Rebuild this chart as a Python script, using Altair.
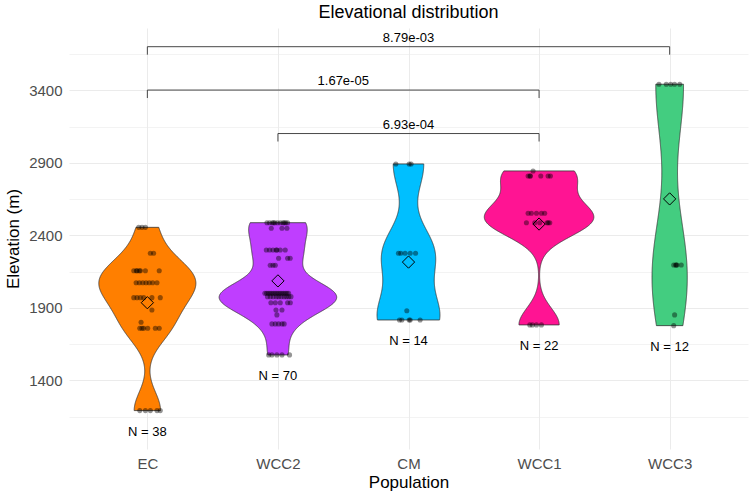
import numpy as np
import pandas as pd
import altair as alt

# ---------------- data ----------------
populations = ["EC", "WCC2", "CM", "WCC1", "WCC3"]
colors = ["#FF7F00", "#BF3EFF", "#00BFFF", "#FF1493", "#43CD80"]

ec_elev = [2456, 2456, 2456, 2277, 2277,
           2157, 2157, 2157, 2157, 2157, 2157, 2157,
           2074, 2074, 2074, 2074, 2074, 2074, 2074,
           1971, 1971, 1971, 1971, 1971, 1971,
           1886, 1801,
           1760, 1760, 1760, 1760, 1760, 1760,
           1192, 1192, 1192, 1192, 1192]
ec_jit = [-0.066, -0.041, -0.015, 0.048, 0.023,
          -0.104, -0.084, -0.061, -0.015, 0.091, -0.079, -0.053,
          -0.086, -0.061, -0.035, -0.010, 0.015, 0.041, 0.074,
          -0.104, -0.079, -0.053, -0.028, 0.035, 0.099,
          0.035, -0.048,
          -0.058, -0.041, -0.028, 0.003, 0.061, 0.091,
          -0.058, -0.015, 0.023, 0.074, 0.099]

wcc2_elev = [2488] * 11 + [2450] * 3 + [2300] * 7 + [2243] * 3 + [2194] * 3 + \
            [2001] * 15 + [1978] * 10 + [1936] * 5 + [1886] * 2 + [1852] + \
            [1790] * 5 + [1576] * 5
wcc2_jit = [-0.084, -0.064, -0.043, -0.023, -0.003, 0.018, 0.038, 0.059, 0.074, -0.033, 0.048,
            -0.051, 0.031, 0.069,
            -0.089, -0.064, -0.038, -0.013, 0.018, 0.056, -0.008,
            0.005, 0.074, 0.094,
            -0.059, -0.038, -0.020,
            -0.100, -0.087, -0.074, -0.061, -0.048, -0.035, -0.022, -0.009,
            0.004, 0.017, 0.030, 0.043, 0.056, 0.069, 0.082,
            -0.080, -0.058, -0.036, -0.012, 0.006, 0.026, 0.048, 0.066, 0.083, 0.100,
            -0.054, -0.020, 0.018, 0.074, 0.095,
            -0.015, 0.031,
            -0.008,
            -0.046, -0.020, 0.005, 0.031, 0.048,
            -0.071, -0.046, -0.008, 0.031, 0.089]

cm_elev = [2893] * 3 + [2277] * 5 + [1881] + [1817] * 5
cm_jit = [-0.097, 0.005, 0.020,
          -0.077, -0.059, 0.013, 0.054, -0.026,
          -0.013,
          -0.069, -0.051, 0.005, 0.013, 0.089]

wcc1_elev = [2845] + [2810] * 6 + [2553] * 5 + [2488] * 6 + [1783] * 4
wcc1_jit = [-0.046,
            -0.084, -0.066, 0.013, 0.069, 0.087, -0.070,
            -0.084, -0.059, -0.020, 0.018, 0.043,
            -0.097, -0.033, 0.005, 0.061, 0.082, 0.070,
            -0.071, -0.051, -0.020, 0.018]

wcc3_elev = [3443] * 5 + [2196] * 5 + [1852, 1778]
wcc3_jit = [-0.082, 0.008, 0.077, -0.026, 0.038,
            0.031, 0.051, 0.089, 0.046, 0.056,
            0.038, 0.031]

elev_lists = [ec_elev, wcc2_elev, cm_elev, wcc1_elev, wcc3_elev]
jit_lists = [ec_jit, wcc2_jit, cm_jit, wcc1_jit, wcc3_jit]

comp_from = ["WCC2", "EC", "EC"]
comp_to = ["WCC1", "WCC1", "WCC3"]
comp_p = ["6.93e-04", "1.67e-05", "8.79e-03"]
comp_y = [3103, 3403, 3702]

# ---------------- tables ----------------
rows = []
for i, (pop, ev, jt) in enumerate(zip(populations, elev_lists, jit_lists)):
    for e, j in zip(ev, jt):
        rows.append({"Population": pop, "idx": i + 1, "Elevation": e, "x": i + 1 + j})
points = pd.DataFrame(rows)


def bw_nrd0(x):
    x = np.asarray(x, float)
    hi = x.std(ddof=1)
    q75, q25 = np.percentile(x, [75, 25])
    lo = min(hi, (q75 - q25) / 1.34)
    if lo <= 0:
        lo = hi
    return 0.9 * lo * len(x) ** -0.2


dens_all = []
for i, (pop, ev) in enumerate(zip(populations, elev_lists)):
    x = np.asarray(ev, float)
    bw = bw_nrd0(x)
    grid = np.linspace(x.min(), x.max(), 512)
    d = np.exp(-0.5 * ((grid[:, None] - x[None, :]) / bw) ** 2).sum(1) / (len(x) * bw * np.sqrt(2 * np.pi))
    dens_all.append((pop, i + 1, grid, d))
dmax = max(d.max() for _, _, _, d in dens_all)
vrows = []
for pop, idx, grid, d in dens_all:
    hw = 0.45 * d / dmax
    for g, h in zip(grid, hw):
        vrows.append({"Population": pop, "Elevation": g, "xl": idx - h, "xr": idx + h})
violins = pd.DataFrame(vrows)

brackets = pd.DataFrame({
    "x1": [populations.index(a) + 1 for a in comp_from],
    "x2": [populations.index(b) + 1 for b in comp_to],
    "y": comp_y,
    "label": comp_p,
})

# ---------------- chart ----------------
FONT = "Liberation Sans"
xscale = alt.Scale(domain=[0.4, 5.6], nice=False, zero=False)
yscale = alt.Scale(domain=[927, 3831], nice=False, zero=False)
label_js = "[" + ",".join("'%s'" % p for p in populations) + "]"

x_axis = alt.Axis(values=[1, 2, 3, 4, 5], labelExpr=label_js + "[datum.value - 1]",
                  title="Population", grid=True, gridColor="#EBEBEB", gridWidth=1,
                  domain=False, ticks=False, labelFont=FONT, labelFontSize=15,
                  labelColor="#4D4D4D", labelPadding=7, titleFont=FONT, titleFontSize=17,
                  titleFontWeight="normal", titleColor="black", titlePadding=3)
y_axis = alt.Axis(values=list(range(1150, 3651, 250)),
                  labelExpr="datum.value % 500 == 400 ? datum.value : ''",
                  title="Elevation (m)", grid=True, gridColor="#EBEBEB",
                  gridWidth={"condition": {"test": "datum.value % 500 == 400", "value": 1.1}, "value": 0.6},
                  domain=False, ticks=False, labelFont=FONT, labelFontSize=15,
                  labelColor="#4D4D4D", labelPadding=7, titleFont=FONT, titleFontSize=17,
                  titleFontWeight="normal", titleColor="black", titlePadding=6)

color = alt.Color("Population:N", scale=alt.Scale(domain=populations, range=colors), legend=None)

violin = alt.Chart(violins).mark_area(orient="horizontal", stroke="#333333", strokeWidth=0.8, opacity=1).encode(
    y=alt.Y("Elevation:Q", scale=yscale, axis=y_axis),
    x=alt.X("xl:Q", scale=xscale, axis=x_axis),
    x2="xr:Q",
    color=color,
    detail="Population:N",
)

pts = alt.Chart(points).mark_circle(size=26, color="black", opacity=0.42).encode(
    x=alt.X("x:Q", scale=xscale),
    y=alt.Y("Elevation:Q", scale=yscale),
)

means = alt.Chart(points).transform_aggregate(
    m="mean(Elevation)", groupby=["Population", "idx"]
).mark_point(shape="diamond", size=150, filled=False, color="black", strokeWidth=1, opacity=1).encode(
    x=alt.X("idx:Q", scale=xscale),
    y=alt.Y("m:Q", scale=yscale),
)

nlab = alt.Chart(points).transform_aggregate(
    lo="min(Elevation)", n="count()", groupby=["Population", "idx"]
).transform_calculate(
    lab="'N = ' + datum.n"
).mark_text(font=FONT, fontSize=13, color="black", baseline="middle", dy=21).encode(
    x=alt.X("idx:Q", scale=xscale),
    y=alt.Y("lo:Q", scale=yscale),
    text="lab:N",
)

b_base = alt.Chart(brackets).transform_calculate(
    yt="datum.y - 55", xm="(datum.x1 + datum.x2) / 2"
)
b_h = b_base.mark_rule(color="#333333", strokeWidth=0.9).encode(
    x=alt.X("x1:Q", scale=xscale), x2="x2:Q", y=alt.Y("y:Q", scale=yscale))
b_l = b_base.mark_rule(color="#333333", strokeWidth=0.9).encode(
    x=alt.X("x1:Q", scale=xscale), y=alt.Y("y:Q", scale=yscale), y2="yt:Q")
b_r = b_base.mark_rule(color="#333333", strokeWidth=0.9).encode(
    x=alt.X("x2:Q", scale=xscale), y=alt.Y("y:Q", scale=yscale), y2="yt:Q")
b_t = b_base.mark_text(font=FONT, fontSize=13, color="black", baseline="bottom", dy=-2).encode(
    x=alt.X("xm:Q", scale=xscale), y=alt.Y("y:Q", scale=yscale), text="label:N")

chart = alt.layer(violin, pts, means, nlab, b_h, b_l, b_r, b_t).properties(
    width=679, height=421,
    title=alt.TitleParams("Elevational distribution", font=FONT, fontSize=18,
                          fontWeight="normal", color="black", anchor="middle", offset=6),
    autosize=alt.AutoSizeParams(type="none"),
    padding={"left": 69, "top": 28, "right": 2, "bottom": 47},
    view=alt.ViewBackground(stroke="transparent", strokeWidth=0),
).configure_view(stroke="transparent", strokeWidth=0).configure(background="white")

chart.save("out.html", embed_options={"renderer": "svg", "actions": False})
